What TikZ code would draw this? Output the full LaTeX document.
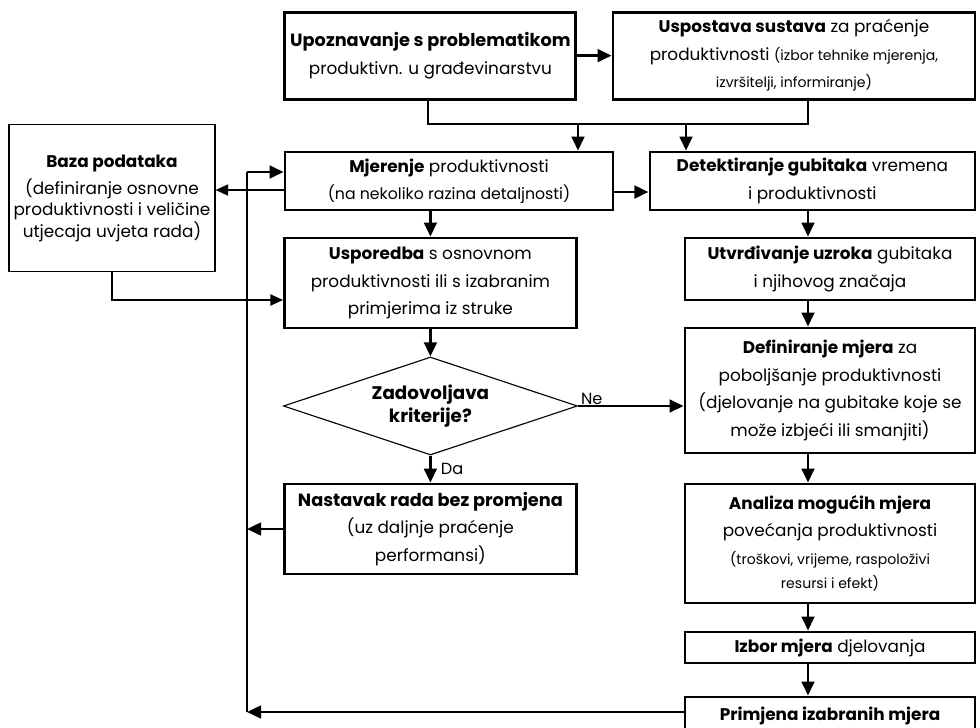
\documentclass[tikz,border=0pt]{standalone}
\usepackage{fontspec}
\setmainfont{Poppins}
\usepackage{tikz}
\usetikzlibrary{shapes.geometric, arrows.meta, positioning, calc}
\definecolor{mydark}{RGB}{0,0,0}
\newcommand{\normfnt}{\fontsize{12}{19.5}\selectfont}
\newcommand{\smallfnt}{\fontsize{10}{19.5}\selectfont}
\tikzset{
  block/.style={rectangle, draw=mydark, line width=2pt, align=center,
    inner sep=0pt, font=\normfnt},
  thinblock/.style={rectangle, draw=mydark, line width=0.8pt, align=center,
    inner sep=0pt, font=\normfnt},
  decision/.style={diamond, aspect=3, draw=mydark, line width=0.8pt, align=center,
    inner sep=0pt, font=\fontsize{13}{16.5}\selectfont\bfseries},
  lbl/.style={font=\fontsize{11.5}{14}\selectfont, inner sep=1pt},
  arrow/.style={-{Triangle[length=10pt,width=9pt]}, line width=2pt, color=mydark},
  thinarrow/.style={-{Triangle[length=9pt,width=8pt]}, line width=1pt, color=mydark},
  line/.style={line width=2pt, color=mydark}
}

\begin{document}
\begin{tikzpicture}
  \useasboundingbox (0,0) rectangle (24.5,-18.175);
  \clip (0,0) rectangle (24.5,-18.175);
  % Top row
  \node[block, minimum width=7.275cm, minimum height=2.175cm] (upoz) at (10.76,-1.39)
    {{\fontsize{12.6}{19.5}\selectfont\bfseries Upoznavanje s problematikom}\\produktivn. u građevinarstvu};
  \node[block, minimum width=9.05cm, minimum height=2.175cm] (usp) at (19.85,-1.39)
    {\textbf{Uspostava sustava} za praćenje\\produktivnosti {\smallfnt (izbor tehnike mjerenja,}\\{\smallfnt izvršitelji, informiranje)}};
  % Left column
  \node[thinblock, minimum width=5.15cm, minimum height=3.675cm, font=\fontsize{12}{15.6}\selectfont] (baza) at (2.8,-4.96)
    {\textbf{Baza podataka}\\[3.6pt](definiranje osnovne\\produktivnosti i veličine\\utjecaja uvjeta rada)};
  \node[block, minimum width=8.2cm, minimum height=1.45cm] (mjer) at (11.225,-4.525)
    {\textbf{Mjerenje} produktivnosti\\{\fontsize{11.2}{17}\selectfont (na nekoliko razina detaljnosti)}};
  \node[block, minimum width=7.3cm, minimum height=2.25cm] (uspor) at (10.76,-7.075)
    {\textbf{Usporedba} s osnovnom\\produktivnosti ili s izabranim\\primjerima iz struke};
  \node[decision, minimum width=7.35cm, minimum height=2.45cm] (zadov) at (10.76,-10.15)
    {Zadovoljava\\kriterije?};
  \node[block, minimum width=7.3cm, minimum height=2.25cm] (nast) at (10.76,-13.225)
    {{\fontsize{12.6}{19.5}\selectfont\bfseries Nastavak rada bez promjena}\\(uz daljnje praćenje\\performansi)};
  % Right column
  \node[block, minimum width=8.125cm, minimum height=1.45cm] (detek) at (20.31,-4.525)
    {\textbf{Detektiranje gubitaka} vremena\\i produktivnosti};
  \node[block, minimum width=7.25cm, minimum height=1.55cm] (uzrok) at (20.75,-6.725)
    {\textbf{Utvrđivanje uzroka} gubitaka\\i njihovog značaja};
  \node[block, minimum width=7.25cm, minimum height=3.125cm] (defin) at (20.75,-9.7625)
    {\textbf{Definiranje mjera} za\\poboljšanje produktivnosti\\(djelovanje na gubitake koje se\\može izbjeći ili smanjiti)};
  \node[block, minimum width=7.25cm, minimum height=2.975cm] (anal) at (20.75,-13.5875)
    {\textbf{Analiza mogućih mjera}\\povećanja produktivnosti\\{\smallfnt (troškovi, vrijeme, raspoloživi}\\[-2pt]{\smallfnt resursi i efekt)}};
  \node[block, minimum width=7.25cm, minimum height=0.775cm] (izbor) at (20.75,-16.1875)
    {\textbf{Izbor mjera} djelovanja};
  \node[block, minimum width=7.25cm, minimum height=0.95cm] (prim) at (20.75,-17.9)
    {\textbf{Primjena izabranih mjera}};
  % Junctions
  \coordinate (jupoz) at (10.7,-3.1);
  \coordinate (jusp) at (20.2,-3.1);
  \coordinate (jmjer) at (14.45,-3.1);
  \coordinate (jdetek) at (17.15,-3.1);
  \coordinate (looptop) at (6.175,-4.3);
  \coordinate (loopbot) at (6.175,-17.8);
  % Connectors
  \draw[arrow] (upoz.east) -- (usp.west);
  \draw[line] (upoz.south -| jupoz) -- (jupoz) -- (jusp) -- (usp.south -| jusp);
  \draw[arrow] (jmjer) -- (jmjer |- mjer.north);
  \draw[arrow] (jdetek) -- (jdetek |- detek.north);
  \draw[arrow] ([yshift=-0.275cm]mjer.east) -- ([yshift=-0.275cm]mjer.east -| detek.west);
  \draw[thinarrow] ([yshift=-0.225cm]mjer.west) -- ([yshift=-0.225cm]mjer.west -| baza.east);
  \draw[thinarrow] (baza.south) |- ([yshift=-0.425cm]uspor.west);
  \draw[arrow] (uspor.north |- mjer.south) -- (uspor.north);
  \draw[arrow] (uspor.south) -- (zadov.north);
  \draw[arrow] (zadov.south) -- (nast.north);
  \node[lbl, anchor=west] (da) at ([xshift=0.22cm]$(zadov.south)!0.5!(nast.north)$) {Da};
  \draw[arrow] (zadov.east) -- (zadov.east -| defin.west);
  \node[lbl, anchor=south west] (ne) at ([xshift=1pt]zadov.east) {Ne};
  \draw[arrow] (detek.south -| jusp) -- (uzrok.north -| jusp);
  \draw[arrow] (uzrok.south -| jusp) -- (defin.north -| jusp);
  \draw[arrow] (defin.south -| jusp) -- (anal.north -| jusp);
  \draw[arrow] (anal.south -| jusp) -- (izbor.north -| jusp);
  \draw[arrow] (izbor.south -| jusp) -- (prim.north -| jusp);
  % Feedback loop
  \draw[line] (loopbot) -- (looptop);
  \draw[arrow] (looptop) -- (looptop -| mjer.west);
  \draw[arrow] (nast.west) -- (nast.west -| looptop);
  \draw[arrow] (loopbot -| prim.west) -- (loopbot);
\end{tikzpicture}
\end{document}
